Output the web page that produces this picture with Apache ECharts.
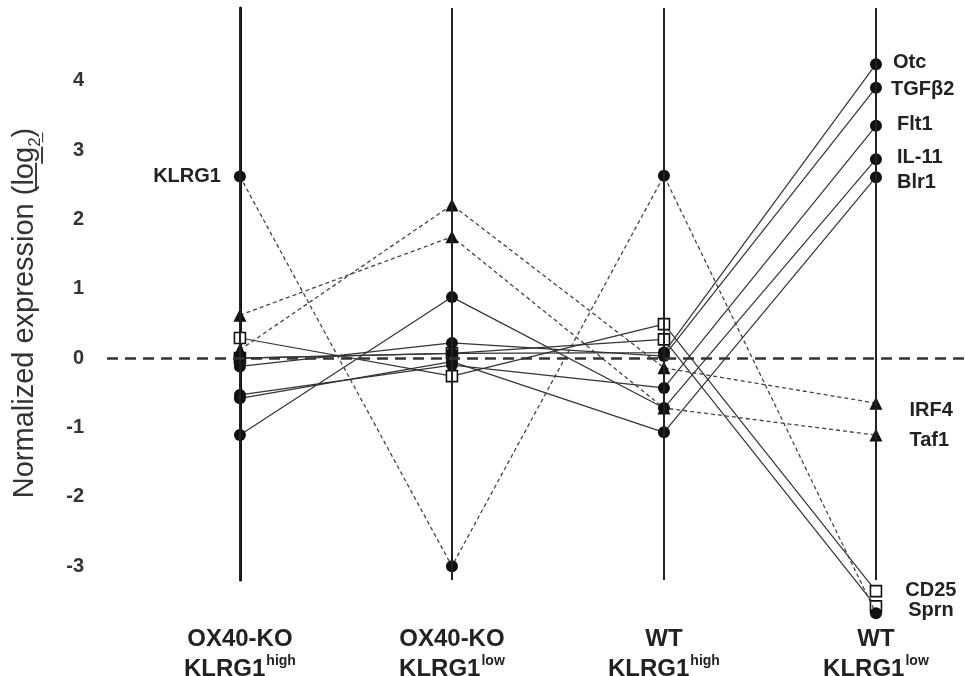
<!DOCTYPE html>
<html><head><meta charset="utf-8">
<script src="https://cdn.jsdelivr.net/npm/echarts@6/dist/echarts.min.js"></script>
<style>html,body{margin:0;padding:0;background:#fff;overflow:hidden}#c{width:965px;height:676px}</style>
</head><body><div id="c"></div>
<script>
// ---- data ----
const groupLine1 = ['OX40-KO', 'OX40-KO', 'WT', 'WT'];
const groupLine2 = ['KLRG1', 'KLRG1', 'KLRG1', 'KLRG1'];
const groupSup = ['high', 'low', 'high', 'low'];
const yTicks = [-3, -2, -1, 0, 1, 2, 3, 4];

const genes = ['KLRG1', 'Otc', 'TGFβ2', 'Flt1', 'IL-11', 'Blr1', 'IRF4', 'Taf1', 'CD25', 'Sprn'];
const KLRG1 = [2.62, -3.0, 2.63, -3.68];
const Otc   = [0.0, 0.07, 0.08, 4.24];
const TGFb2 = [-0.12, 0.22, 0.03, 3.90];
const Flt1  = [-0.53, -0.1, -0.43, 3.35];
const IL11  = [-1.11, 0.88, -0.72, 2.87];
const Blr1  = [-0.58, -0.05, -1.07, 2.61];
const IRF4  = [0.12, 2.21, -0.14, -0.65];
const Taf1  = [0.62, 1.75, -0.72, -1.11];
const CD25  = [0.29, -0.26, 0.49, -3.36];
const Sprn  = [0.0, 0.07, 0.27, -3.58];
const values = [KLRG1, Otc, TGFb2, Flt1, IL11, Blr1, IRF4, Taf1, CD25, Sprn];
const markerKind = ['circle', 'circle', 'circle', 'circle', 'circle', 'circle', 'triangle', 'triangle', 'square', 'square'];
const dashedLine = [true, false, false, false, false, false, true, true, false, false];

// ---- styles (label placement) ----
const labelStyle = {
  'KLRG1': {idx: 0, position: 'left', distance: 13, offset: [0, 0]},
  'Otc':   {idx: 3, position: 'right', distance: 11, offset: [0, -2]},
  'TGFβ2': {idx: 3, position: 'right', distance: 9, offset: [0, 2]},
  'Flt1':  {idx: 3, position: 'right', distance: 15, offset: [0, -1]},
  'IL-11': {idx: 3, position: 'right', distance: 15, offset: [0, -2]},
  'Blr1':  {idx: 3, position: 'right', distance: 15, offset: [0, 5]},
  'IRF4':  {idx: 3, position: 'right', distance: 27, offset: [0, 7]},
  'Taf1':  {idx: 3, position: 'right', distance: 27, offset: [0, 5]},
  'CD25':  {idx: 3, position: 'right', distance: 23, offset: [0, -1]},
  'Sprn':  {idx: 3, position: 'right', distance: 26, offset: [0, 4]}
};
const symbolMap = {
  circle: {symbol: 'circle', symbolSize: 12, z: 4, itemStyle: {color: '#111', borderColor: '#111', borderWidth: 0}},
  triangle: {symbol: 'triangle', symbolSize: 13, z: 3, itemStyle: {color: '#111', borderColor: '#111', borderWidth: 0}},
  square: {symbol: 'rect', symbolSize: 11, z: 2, itemStyle: {color: '#fff', borderColor: '#111', borderWidth: 1.6}}
};
const FONT = "'Liberation Sans', Arial, Helvetica, sans-serif";
const catIdx = [0, 1, 2, 3];

const series = genes.map((g, k) => {
  const ls = labelStyle[g];
  const sm = symbolMap[markerKind[k]];
  return {
    type: 'line', name: g, z: sm.z, clip: false,
    symbol: sm.symbol, symbolSize: sm.symbolSize, itemStyle: sm.itemStyle,
    lineStyle: dashedLine[k] ? {color: '#444', width: 1.3, type: [4, 3]} : {color: '#333', width: 1.2, type: 'solid'},
    emphasis: {disabled: true}, animation: false,
    data: values[k].map((v, i) => {
      const item = {value: [catIdx[i], v]};
      if (ls && ls.idx === i) {
        item.label = {show: true, formatter: g, position: ls.position, distance: ls.distance, offset: ls.offset,
          fontFamily: FONT, fontWeight: 'bold', fontSize: 20, color: '#222'};
      }
      return item;
    })
  };
});

series.unshift({
  type: 'line', name: 'refs', data: [], z: 1, silent: true,
  markLine: {
    silent: true, symbol: ['none', 'none'], label: {show: false}, animation: false,
    data: [
      ...catIdx.map(i => ({xAxis: i, lineStyle: {color: '#222', width: 2, type: 'solid'}})),
      {yAxis: 0, lineStyle: {color: '#333', width: 2.5, type: [11, 7]}}
    ]
  }
});

const chart = echarts.init(document.getElementById('c'), null, {renderer: 'canvas', width: 965, height: 676});
chart.setOption({
  backgroundColor: '#fff',
  animation: false,
  grid: {left: 107, right: 0, top: 8, bottom: 96, containLabel: false, outerBoundsMode: 'none'},
  xAxis: {
    type: 'value', min: -0.627, max: 3.42,
    axisLine: {show: false},
    splitLine: {show: false},
    axisTick: {show: true, customValues: catIdx, length: 12, lineStyle: {color: '#222', width: 2}},
    axisLabel: {
      customValues: catIdx, margin: 44,
      formatter: v => {
        const i = Math.round(v);
        return '{a|' + groupLine1[i] + '}\n{a|' + groupLine2[i] + '}{s|' + groupSup[i] + '}';
      },
      rich: {
        a: {fontFamily: FONT, fontWeight: 'bold', fontSize: 24, color: '#222', lineHeight: 30},
        s: {fontFamily: FONT, fontWeight: 'bold', fontSize: 14, color: '#222', lineHeight: 30, verticalAlign: 'top', padding: [0, 0, 6, 1]}
      }
    }
  },
  yAxis: {
    type: 'value', min: -3.2, max: 5.05,
    axisLine: {show: true, lineStyle: {color: '#111', width: 3}},
    axisTick: {show: false},
    splitLine: {show: false},
    axisLabel: {customValues: yTicks, margin: 23, fontFamily: FONT, fontWeight: 'bold', fontSize: 20, color: '#333'},
    name: '{n|Normalized expression (}{n|l\u0332o\u0332g\u0332}{b|2\u0332}{n|)}',
    nameLocation: 'middle', nameRotate: 90, nameGap: 63,
    nameTextStyle: {
      padding: [0, 38, 0, 0],
      rich: {
        n: {fontFamily: FONT, fontSize: 29, color: '#333', lineHeight: 34},
        b: {fontFamily: FONT, fontSize: 17, color: '#333', verticalAlign: 'bottom', lineHeight: 38}
      }
    }
  },
  series: series
});
</script>
</body></html>
